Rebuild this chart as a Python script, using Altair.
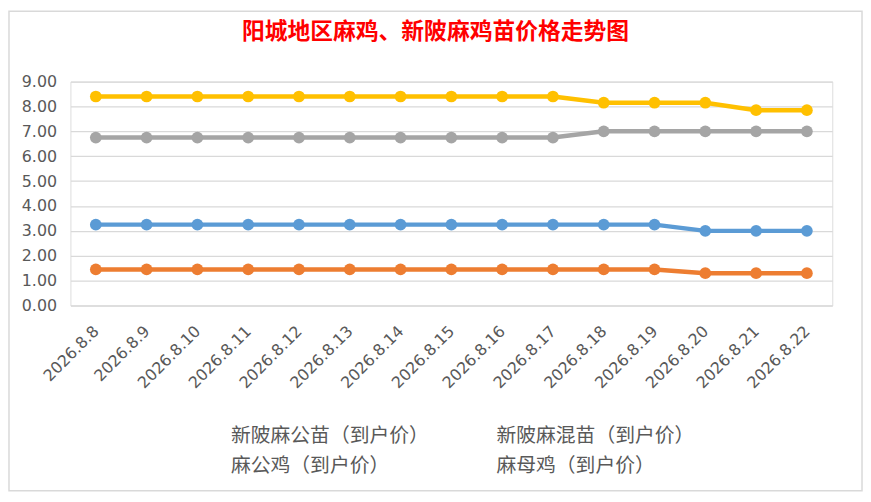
import altair as alt
import pandas as pd

dates = ["2026.8.8", "2026.8.9", "2026.8.10", "2026.8.11", "2026.8.12", "2026.8.13",
         "2026.8.14", "2026.8.15", "2026.8.16", "2026.8.17", "2026.8.18", "2026.8.19",
         "2026.8.20", "2026.8.21", "2026.8.22"]
series_names = ["新陂麻公苗（到户价）", "新陂麻混苗（到户价）", "麻公鸡（到户价）", "麻母鸡（到户价）"]
gongmiao = [3.25, 3.25, 3.25, 3.25, 3.25, 3.25, 3.25, 3.25, 3.25, 3.25, 3.25, 3.25, 3.0, 3.0, 3.0]
hunmiao = [1.45, 1.45, 1.45, 1.45, 1.45, 1.45, 1.45, 1.45, 1.45, 1.45, 1.45, 1.45, 1.3, 1.3, 1.3]
gongji = [6.75, 6.75, 6.75, 6.75, 6.75, 6.75, 6.75, 6.75, 6.75, 6.75, 7.0, 7.0, 7.0, 7.0, 7.0]
muji = [8.4, 8.4, 8.4, 8.4, 8.4, 8.4, 8.4, 8.4, 8.4, 8.4, 8.15, 8.15, 8.15, 7.85, 7.85]
colors = ["#5B9BD5", "#ED7D31", "#A5A5A5", "#FFC000"]

rows = []
for name, vals in zip(series_names, [gongmiao, hunmiao, gongji, muji]):
    for d, v in zip(dates, vals):
        rows.append({"date": d, "series": name, "value": v})
df = pd.DataFrame(rows)

W, H = 769, 226

x = alt.X("date:N", sort=dates, title=None,
          scale=alt.Scale(type="point", padding=0.5),
          axis=alt.Axis(labelAngle=315, labelAlign="right", labelBaseline="middle",
                        labelPadding=23, labelFontSize=16, labelFont="DejaVu Sans",
                        labelColor="#595959", domain=False, ticks=False, grid=False))
y = alt.Y("value:Q", title=None,
          scale=alt.Scale(domain=[0, 9], nice=False),
          axis=alt.Axis(values=[0, 1, 2, 3, 4, 5, 6, 7, 8, 9], format=".2f",
                        labelFontSize=16, labelFont="DejaVu Sans", labelColor="#595959",
                        labelPadding=14, domain=False, ticks=False,
                        gridColor="#D9D9D9", gridWidth=1.3))
color = alt.Color("series:N", title=None,
                  scale=alt.Scale(domain=series_names, range=colors),
                  sort=series_names,
                  legend=alt.Legend(orient="none", legendX=142, legendY=348, columns=2,
                                    direction="horizontal",
                                    symbolSize=0, symbolOpacity=0, symbolStrokeWidth=0,
                                    labelOffset=0, columnPadding=48, rowPadding=10,
                                    labelFontSize=20, labelFont="Noto Sans CJK SC",
                                    labelColor="#595959", labelLimit=400))

base = alt.Chart(df)
lines = base.mark_line(strokeWidth=4.5).encode(x=x, y=y, color=color)
points = base.mark_circle(size=140, opacity=1).encode(x=x, y=y, color=color)

border = alt.Chart(pd.DataFrame({"a": [0]})).mark_rect(
    fill=None, stroke="#D9D9D9", strokeWidth=1.5, clip=False
).encode(x=alt.value(-62), x2=alt.value(W + 30), y=alt.value(-71), y2=alt.value(H + 187))

chart = alt.layer(border, lines, points).properties(
    width=W, height=H,
    padding={"left": 63, "top": 72, "right": 31, "bottom": 188},
    autosize=alt.AutoSizeParams(type="none"),
    title=alt.TitleParams("阳城地区麻鸡、新陂麻鸡苗价格走势图", color="#FF0000", fontSize=23,
                          font="Noto Sans CJK SC", fontWeight="bold", anchor="middle",
                          frame="group", dx=-16, offset=-34),
).configure_view(stroke=None).configure(background="white")

chart.save("out.html", embed_options={"renderer": "svg", "actions": False})
